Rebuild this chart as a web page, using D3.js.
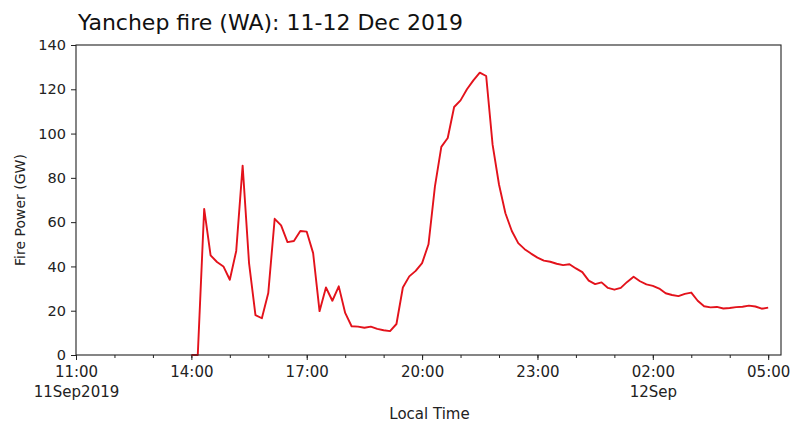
<!DOCTYPE html>
<html>
<head>
<meta charset="utf-8">
<script src="https://cdn.jsdelivr.net/npm/d3@7"></script>
<style>
  html, body { margin: 0; padding: 0; background: #fff; }
  svg { display: block; font-family: "DejaVu Sans", sans-serif; }
</style>
</head>
<body>
<svg id="chart" width="792" height="423"></svg>
<script>
const title = "Yanchep fire (WA): 11-12 Dec 2019";
const xLabel = "Local Time";
const yLabel = "Fire Power (GW)";

const times = [
  "2019-09-11T14:00","2019-09-11T14:10","2019-09-11T14:20","2019-09-11T14:30","2019-09-11T14:40","2019-09-11T14:50",
  "2019-09-11T15:00","2019-09-11T15:10","2019-09-11T15:20","2019-09-11T15:30","2019-09-11T15:40","2019-09-11T15:50",
  "2019-09-11T16:00","2019-09-11T16:10","2019-09-11T16:20","2019-09-11T16:30","2019-09-11T16:40","2019-09-11T16:50",
  "2019-09-11T17:00","2019-09-11T17:10","2019-09-11T17:20","2019-09-11T17:30","2019-09-11T17:40","2019-09-11T17:50",
  "2019-09-11T18:00","2019-09-11T18:10","2019-09-11T18:20","2019-09-11T18:30","2019-09-11T18:40","2019-09-11T18:50",
  "2019-09-11T19:00","2019-09-11T19:10","2019-09-11T19:20","2019-09-11T19:30","2019-09-11T19:40","2019-09-11T19:50",
  "2019-09-11T20:00","2019-09-11T20:10","2019-09-11T20:20","2019-09-11T20:30","2019-09-11T20:40","2019-09-11T20:50",
  "2019-09-11T21:00","2019-09-11T21:10","2019-09-11T21:20","2019-09-11T21:30","2019-09-11T21:40","2019-09-11T21:50",
  "2019-09-11T22:00","2019-09-11T22:10","2019-09-11T22:20","2019-09-11T22:30","2019-09-11T22:40","2019-09-11T22:50",
  "2019-09-11T23:00","2019-09-11T23:10","2019-09-11T23:20","2019-09-11T23:30","2019-09-11T23:40","2019-09-11T23:50",
  "2019-09-12T00:00","2019-09-12T00:10","2019-09-12T00:20","2019-09-12T00:30","2019-09-12T00:40","2019-09-12T00:50",
  "2019-09-12T01:00","2019-09-12T01:10","2019-09-12T01:20","2019-09-12T01:30","2019-09-12T01:40","2019-09-12T01:50",
  "2019-09-12T02:00","2019-09-12T02:10","2019-09-12T02:20","2019-09-12T02:30","2019-09-12T02:40","2019-09-12T02:50",
  "2019-09-12T03:00","2019-09-12T03:10","2019-09-12T03:20","2019-09-12T03:30","2019-09-12T03:40","2019-09-12T03:50",
  "2019-09-12T04:00","2019-09-12T04:10","2019-09-12T04:20","2019-09-12T04:30","2019-09-12T04:40","2019-09-12T04:50",
  "2019-09-12T05:00"
];
const firePower = [
  0, 0, 66, 45, 42, 40,
  34, 47, 85.5, 41.5, 18, 16.6,
  28, 61.5, 58.5, 51, 51.5, 56,
  55.7, 46, 19.8, 30.5, 24.5, 31,
  19, 13, 12.8, 12.3, 12.8, 11.8,
  11.2, 10.8, 14, 30.5, 35.5, 38,
  41.5, 50, 76, 94, 98, 112,
  115, 120, 124, 127.5, 126, 95,
  77, 64, 56, 50.5, 47.8, 45.8,
  44, 42.6, 42.1, 41.2, 40.6, 41,
  39.1, 37.4, 33.6, 32, 32.8, 30.3,
  29.5, 30.3, 33, 35.3, 33.3, 31.9,
  31.2, 30, 27.9, 27.1, 26.6, 27.6,
  28.2, 24.5, 22, 21.5, 21.7, 21,
  21.2, 21.6, 21.8, 22.3, 21.9, 20.9,
  21.4
];
const xDomain = ["2019-09-11T11:00", "2019-09-12T05:20"];
const yTicks = [0, 20, 40, 60, 80, 100, 120, 140];
const xMajorTicks = ["2019-09-11T11:00","2019-09-11T14:00","2019-09-11T17:00","2019-09-11T20:00","2019-09-11T23:00","2019-09-12T02:00","2019-09-12T05:00"];
const xTickLabels = [["11:00","11Sep2019"],["14:00"],["17:00"],["20:00"],["23:00"],["02:00","12Sep"],["05:00"]];

const parse = d3.timeParse("%Y-%m-%dT%H:%M");
const data = times.map((t, i) => ({ t: parse(t), v: firePower[i] }));

const margin = { left: 76, right: 11, top: 45, bottom: 68 };
const W = 792, H = 423;
const iw = W - margin.left - margin.right;
const ih = H - margin.top - margin.bottom;

const svg = d3.select("#chart");
const g = svg.append("g").attr("transform", `translate(${margin.left},${margin.top})`);

const x = d3.scaleTime().domain(xDomain.map(parse)).range([0, iw]);
const y = d3.scaleLinear().domain([0, 140]).range([ih, 0]);

const axisColor = "#222";
const fsX = 15, fsY = 14.5;

// Y axis
const yAxis = g.append("g").call(d3.axisLeft(y).tickValues(yTicks).tickSize(5).tickPadding(5));
yAxis.select(".domain").remove();
yAxis.selectAll("text").attr("font-size", fsY).attr("fill", axisColor).attr("font-family", "DejaVu Sans");
yAxis.selectAll("line").attr("stroke", axisColor);

// X minor ticks (hourly)
const minor = d3.timeHour.every(1).range(x.domain()[0], x.domain()[1]);
const xMinor = g.append("g").attr("transform", `translate(0,${ih})`)
  .call(d3.axisBottom(x).tickValues(minor).tickSize(3).tickFormat(""));
xMinor.select(".domain").remove();
xMinor.selectAll("line").attr("stroke", axisColor);

// X major ticks
const majorDates = xMajorTicks.map(parse);
const xAxis = g.append("g").attr("transform", `translate(0,${ih})`)
  .call(d3.axisBottom(x).tickValues(majorDates).tickSize(5).tickPadding(4).tickFormat(""));
xAxis.select(".domain").remove();
xAxis.selectAll("line").attr("stroke", axisColor);
xAxis.selectAll(".tick").each(function(d, i) {
  const txt = d3.select(this).append("text")
    .attr("fill", axisColor).attr("font-size", fsX).attr("text-anchor", "middle")
    .attr("font-family", "DejaVu Sans");
  xTickLabels[i].forEach((s, j) => {
    txt.append("tspan").attr("x", 0).attr("y", 22 + j * 20).text(s);
  });
});

// Line
const line = d3.line().x(d => x(d.t)).y(d => y(d.v));
g.append("path").datum(data)
  .attr("fill", "none").attr("stroke", "#e3121b").attr("stroke-width", 1.9)
  .attr("stroke-linejoin", "round")
  .attr("d", line);

// Frame
g.append("rect").attr("x", 0).attr("y", 0).attr("width", iw).attr("height", ih)
  .attr("fill", "none").attr("stroke", axisColor).attr("stroke-width", 1.1);

// Title
svg.append("text").attr("x", margin.left + 2).attr("y", 30)
  .attr("font-size", 22).attr("fill", "#111").text(title);

// Axis labels
svg.append("text").attr("x", margin.left + iw / 2 + 1).attr("y", 419)
  .attr("text-anchor", "middle").attr("font-size", fsX).attr("fill", axisColor).text(xLabel);
svg.append("text").attr("transform", `translate(25,${margin.top + ih / 2 + 10}) rotate(-90)`)
  .attr("text-anchor", "middle").attr("font-size", 14).attr("fill", axisColor).text(yLabel);
</script>
</body>
</html>
